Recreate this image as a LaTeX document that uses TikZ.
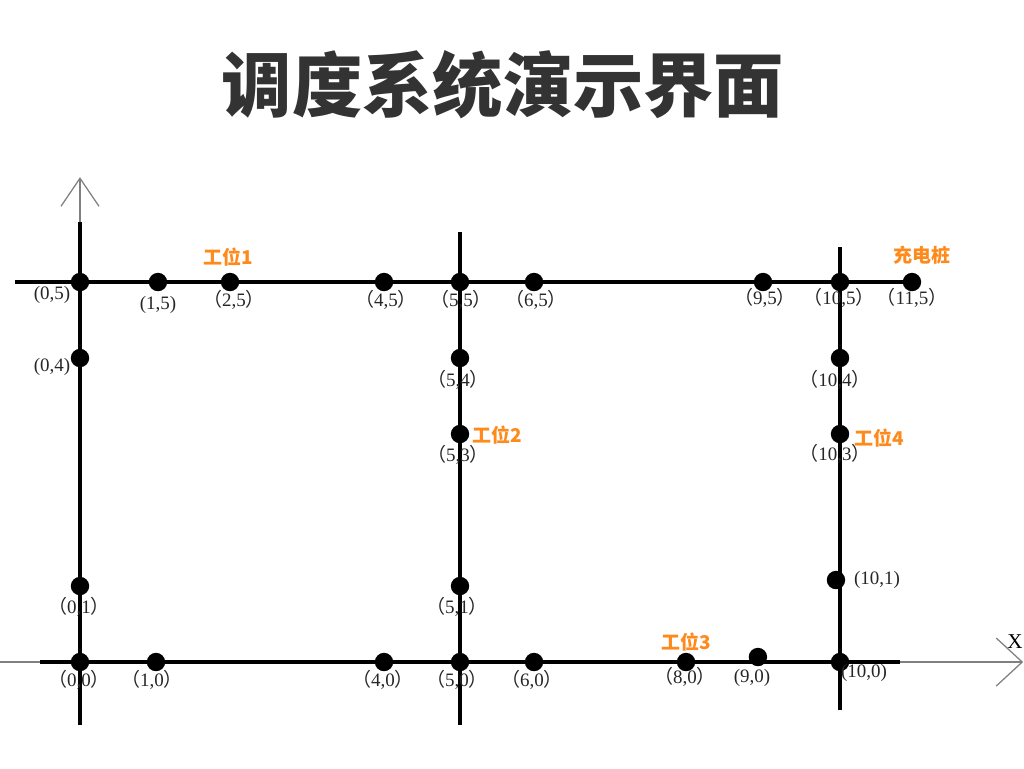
\documentclass[tikz,border=0pt]{standalone}
\usepackage{fontspec}
\setmainfont{Liberation Serif}
\newfontfamily\cjk{Noto Sans CJK SC}
\usepackage{xcolor}
\usepackage{tikz}
\usetikzlibrary{arrows.meta, positioning}
\definecolor{stationorange}{HTML}{FF8A1C}
\definecolor{titlegray}{HTML}{333333}
\newcommand{\fwp}[1]{{\cjk （}#1{\cjk ）}}

\begin{document}
\begin{tikzpicture}[x=1.9cm, y=1.9cm,
  dot/.style={circle, fill=black, inner sep=0pt, minimum size=4.6mm},
  coord/.style={font=\fontsize{13.5}{15}\selectfont, text=black!85, inner sep=1pt},
  station/.style={font=\cjk\bfseries\fontsize{13.5}{16}\selectfont, text=stationorange, inner sep=1pt},
  track/.style={line width=2.6pt},
  axisline/.style={gray, line width=0.9pt}
]
\useasboundingbox (-1.0526,-1.3947) rectangle (12.421,8.711);

% title
\node[font=\cjk\bfseries\fontsize{50}{60}\selectfont, text=titlegray] (title) at (5.566,7.592) {调度系统演示界面};

% axes
\coordinate (yb) at (0,-0.829);
\coordinate (yt) at (0,5.79);
\coordinate (ytip) at (0,6.38);
\coordinate (xl) at (-1.053,0);
\coordinate (xs) at (-0.526,0);
\coordinate (xe) at (10.79,0);
\coordinate (xtip) at (12.41,0);
\draw[axisline, -{Straight Barb[length=7mm, width=9.5mm]}] (yb) -- (ytip);
\draw[axisline, -{Straight Barb[length=6.5mm, width=12mm]}] (xl) -- (xtip);
\node[font=\fontsize{15}{17}\selectfont, inner sep=0pt] (xlab) at (12.303,0.263) {X};

% tracks
\coordinate (topl) at (-0.855,5);
\coordinate (topr) at (11,5);
\coordinate (c5t) at (5,5.658);
\coordinate (c5b) at (5,-0.829);
\coordinate (c10t) at (10,5.46);
\coordinate (c10b) at (10,-0.632);
\draw[track] (yb) -- (yt);
\draw[track] (xs) -- (xe);
\draw[track] (topl) -- (topr);
\draw[track] (c5t) -- (c5b);
\draw[track] (c10t) -- (c10b);

% points
\node[dot] (p0-5) at (0,5) {};
\node[dot] (p1-5) at (1.026,5) {};
\node[dot] (p2-5) at (1.974,5) {};
\node[dot] (p4-5) at (4,5) {};
\node[dot] (p5-5) at (5,5) {};
\node[dot] (p6-5) at (5.974,5) {};
\node[dot] (p9-5) at (8.987,5) {};
\node[dot] (p10-5) at (10,5) {};
\node[dot] (p11-5) at (10.947,5) {};
\node[dot] (p0-4) at (0,4) {};
\node[dot] (p5-4) at (5,4) {};
\node[dot] (p5-3) at (5,3) {};
\node[dot] (p10-4) at (10,4) {};
\node[dot] (p10-3) at (10,3) {};
\node[dot] (p0-1) at (0,1) {};
\node[dot] (p5-1) at (5,1) {};
\node[dot] (p10-1) at (9.947,1.079) {};
\node[dot] (p0-0) at (0,0) {};
\node[dot] (p1-0) at (1,0) {};
\node[dot] (p4-0) at (4,0) {};
\node[dot] (p5-0) at (5,0) {};
\node[dot] (p6-0) at (5.974,0) {};
\node[dot] (p8-0) at (7.974,0) {};
\node[dot] (p9-0) at (8.92,0.066) {};
\node[dot] (p10-0) at (10,0) {};

% point labels
\node[coord] (l0-5) at (-0.368,4.829) {(0,5)};
\node[coord] (l1-5) at (1.026,4.697) {(1,5)};
\node[coord] (l2-5) at (2.026,4.763) {\fwp{2,5}};
\node[coord] (l4-5) at (4.026,4.763) {\fwp{4,5}};
\node[coord] (l5-5) at (5.013,4.763) {\fwp{5,5}};
\node[coord] (l6-5) at (6.0,4.763) {\fwp{6,5}};
\node[coord] (l9-5) at (9.013,4.789) {\fwp{9,5}};
\node[coord] (l10-5) at (9.987,4.789) {\fwp{10,5}};
\node[coord] (l11-5) at (10.947,4.789) {\fwp{11,5}};
\node[coord] (l0-4) at (-0.368,3.882) {(0,4)};
\node[coord] (l5-4) at (4.974,3.711) {\fwp{5,4}};
\node[coord] (l5-3) at (4.974,2.724) {\fwp{5,3}};
\node[coord] (l10-4) at (9.934,3.711) {\fwp{10,4}};
\node[coord] (l10-3) at (9.934,2.737) {\fwp{10,3}};
\node[coord] (l10-1) at (10.487,1.079) {(10,1)};
\node[coord] (l0-1) at (-0.013,0.724) {\fwp{0,1}};
\node[coord] (l5-1) at (4.961,0.724) {\fwp{5,1}};
\node[coord] (l0-0) at (-0.013,-0.237) {\fwp{0,0}};
\node[coord] (l1-0) at (0.947,-0.237) {\fwp{1,0}};
\node[coord] (l4-0) at (3.987,-0.237) {\fwp{4,0}};
\node[coord] (l5-0) at (4.961,-0.237) {\fwp{5,0}};
\node[coord] (l6-0) at (5.947,-0.237) {\fwp{6,0}};
\node[coord] (l8-0) at (7.961,-0.197) {\fwp{8,0}};
\node[coord] (l9-0) at (8.842,-0.21) {(9,0)};
\node[coord] (l10-0) at (10.316,-0.145) {(10,0)};

% stations
\node[station] (ws1) at (1.947,5.329) {工位1};
\node[station] (ws2) at (5.487,2.987) {工位2};
\node[station] (ws3) at (7.974,0.263) {工位3};
\node[station] (ws4) at (10.513,2.947) {工位4};
\node[station] (charger) at (11.079,5.355) {充电桩};
\end{tikzpicture}
\end{document}
